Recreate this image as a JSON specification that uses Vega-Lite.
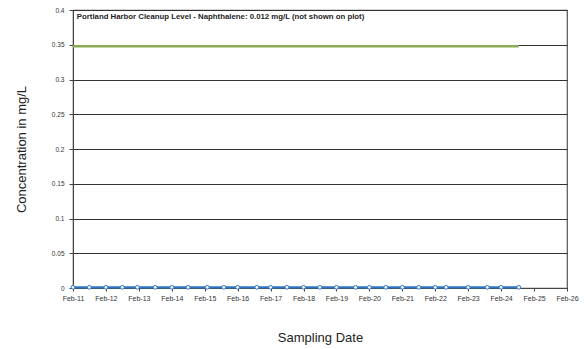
{
  "$schema": "https://vega.github.io/schema/vega-lite/v6.json",
  "width": 494,
  "height": 278,
  "autosize": "none",
  "padding": {"left": 73, "top": 10, "right": 21, "bottom": 61},
  "background": "white",
  "config": {
    "font": "Liberation Sans",
    "view": {"stroke": "#555555", "strokeWidth": 1.2},
    "axis": {"labelFont": "Liberation Sans", "titleFont": "Liberation Sans"}
  },
  "datasets": {
    "samples": [
      {"date": "2011-02-01", "conc": 0.001},
      {"date": "2011-08-01", "conc": 0.001},
      {"date": "2012-02-01", "conc": 0.001},
      {"date": "2012-08-01", "conc": 0.001},
      {"date": "2013-01-15", "conc": 0.001},
      {"date": "2013-08-01", "conc": 0.001},
      {"date": "2014-02-01", "conc": 0.001},
      {"date": "2014-08-01", "conc": 0.001},
      {"date": "2015-03-01", "conc": 0.001},
      {"date": "2015-09-01", "conc": 0.001},
      {"date": "2016-02-01", "conc": 0.001},
      {"date": "2016-09-01", "conc": 0.001},
      {"date": "2017-02-01", "conc": 0.001},
      {"date": "2017-08-01", "conc": 0.001},
      {"date": "2018-02-01", "conc": 0.001},
      {"date": "2018-08-01", "conc": 0.001},
      {"date": "2019-02-01", "conc": 0.001},
      {"date": "2019-09-01", "conc": 0.001},
      {"date": "2020-02-01", "conc": 0.001},
      {"date": "2020-08-01", "conc": 0.001},
      {"date": "2021-02-01", "conc": 0.001},
      {"date": "2021-08-01", "conc": 0.001},
      {"date": "2022-02-01", "conc": 0.001},
      {"date": "2022-06-01", "conc": 0.001},
      {"date": "2023-02-01", "conc": 0.001},
      {"date": "2023-09-01", "conc": 0.001},
      {"date": "2024-02-01", "conc": 0.001},
      {"date": "2024-08-15", "conc": 0.001}
    ],
    "standard": [
      {"date": "2011-02-01", "conc": 0.348},
      {"date": "2024-08-15", "conc": 0.348}
    ],
    "note": [
      {"date": "2011-03-15", "conc": 0.39, "label": "Portland Harbor Cleanup Level - Naphthalene: 0.012 mg/L (not shown on plot)"}
    ]
  },
  "encoding": {
    "x": {
      "field": "date", "type": "temporal",
      "scale": {"type": "utc", "domain": [{"year": 2011, "month": 2, "date": 1, "utc": true}, {"year": 2026, "month": 2, "date": 1, "utc": true}]},
      "axis": {
        "title": "Sampling Date",
        "titleFontSize": 13, "titleFontWeight": "normal", "titleColor": "#222222",
        "titlePadding": 30,
        "values": [
          {"year": 2011, "month": 2, "date": 1, "utc": true},
          {"year": 2012, "month": 2, "date": 1, "utc": true},
          {"year": 2013, "month": 2, "date": 1, "utc": true},
          {"year": 2014, "month": 2, "date": 1, "utc": true},
          {"year": 2015, "month": 2, "date": 1, "utc": true},
          {"year": 2016, "month": 2, "date": 1, "utc": true},
          {"year": 2017, "month": 2, "date": 1, "utc": true},
          {"year": 2018, "month": 2, "date": 1, "utc": true},
          {"year": 2019, "month": 2, "date": 1, "utc": true},
          {"year": 2020, "month": 2, "date": 1, "utc": true},
          {"year": 2021, "month": 2, "date": 1, "utc": true},
          {"year": 2022, "month": 2, "date": 1, "utc": true},
          {"year": 2023, "month": 2, "date": 1, "utc": true},
          {"year": 2024, "month": 2, "date": 1, "utc": true},
          {"year": 2025, "month": 2, "date": 1, "utc": true},
          {"year": 2026, "month": 2, "date": 1, "utc": true}
        ],
        "labelExpr": "utcFormat(datum.value, '%b-%y')",
        "labelFontSize": 7, "labelColor": "#333333", "labelPadding": 3,
        "labelFontWeight": "normal", "labelFlush": false,
        "tickSize": 3, "tickColor": "#444444", "domainColor": "#444444",
        "grid": false, "labelOverlap": false
      }
    },
    "y": {
      "field": "conc", "type": "quantitative",
      "scale": {"domain": [0, 0.4]},
      "axis": {
        "title": "Concentration in mg/L",
        "titleFontSize": 13, "titleFontWeight": "normal", "titleColor": "#222222",
        "titlePadding": 23,
        "values": [0, 0.05, 0.1, 0.15, 0.2, 0.25, 0.3, 0.35, 0.4],
        "labelExpr": "datum.value == 0 ? '0' : format(datum.value, '~g')",
        "labelFontSize": 6.5, "labelColor": "#333333", "labelPadding": 5,
        "labelFontWeight": "normal", "labelOverlap": false, "labelFlush": false,
        "tickSize": 4, "tickColor": "#444444", "domainColor": "#444444",
        "grid": true, "gridColor": "#333333", "gridWidth": 1, "gridOpacity": 1
      }
    }
  },
  "layer": [
    {
      "data": {"name": "standard"},
      "mark": {"type": "line", "color": "#8aab52", "strokeWidth": 2.5}
    },
    {
      "data": {"name": "samples"},
      "mark": {"type": "line", "color": "#2f75c6", "strokeWidth": 2.2,
               "point": {"filled": true, "fill": "white", "stroke": "#2f75c6", "strokeWidth": 1, "size": 14}}
    },
    {
      "data": {"name": "note"},
      "mark": {"type": "text", "align": "left", "baseline": "middle", "fontSize": 7.8, "fontWeight": "bold", "color": "#222222"},
      "encoding": {
        "text": {"field": "label"}
      }
    }
  ]
}
